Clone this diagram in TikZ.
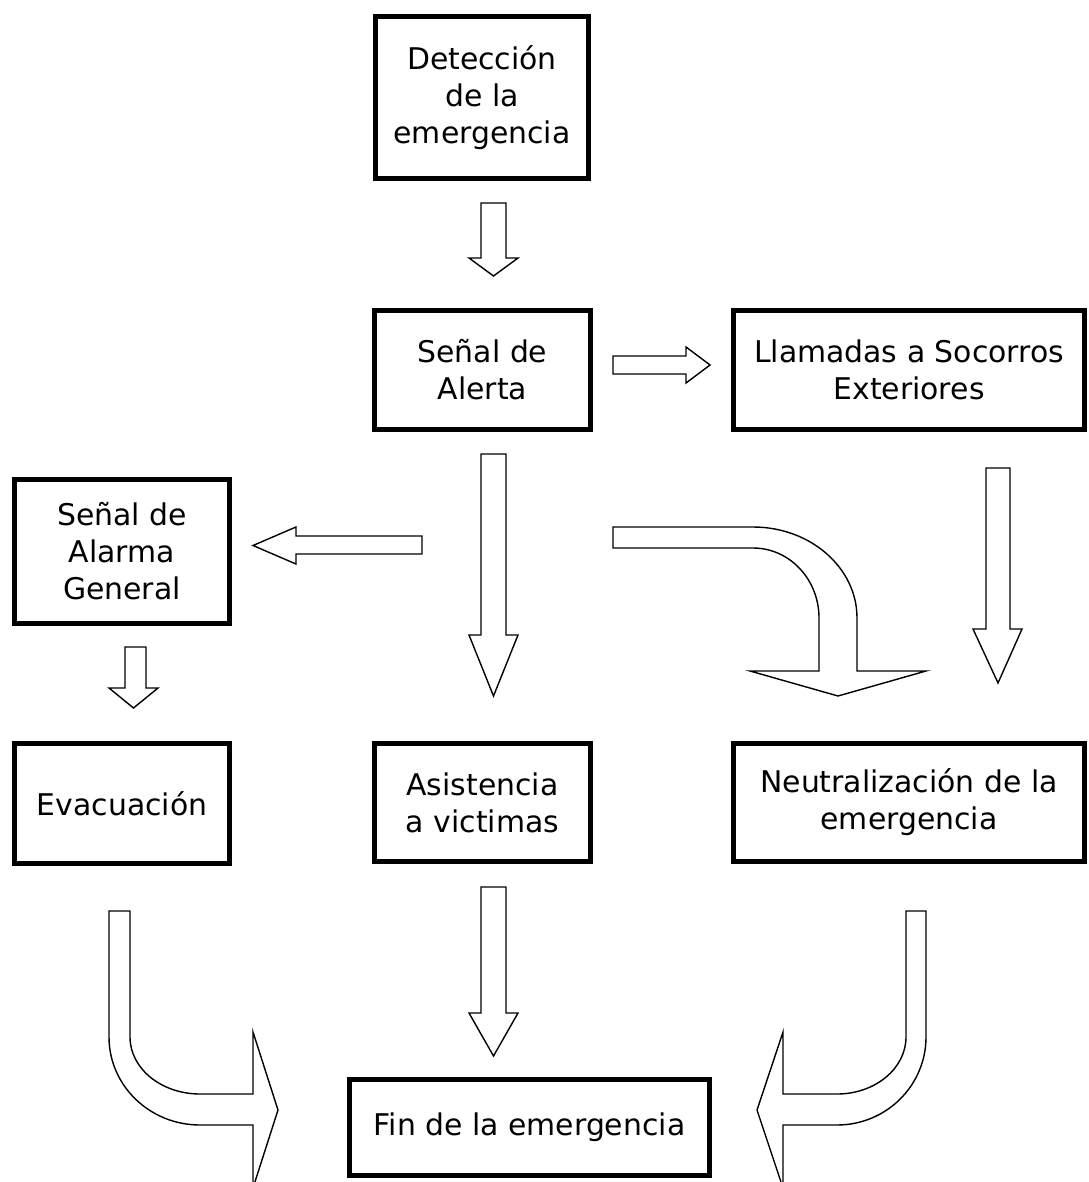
\documentclass[tikz,border=0pt]{standalone}
\usepackage{fontspec}
\setmainfont{DejaVu Sans}
\begin{document}
\begin{tikzpicture}[x=0.02cm,y=-0.02cm,
    every node/.style={inner sep=0,outer sep=1},
    box/.style={rectangle,draw,line width=0.1cm,align=center,
      font=\fontsize{17}{21}\selectfont},
    blockarrow/.style={draw,line width=0.8pt,line join=miter}]
  \useasboundingbox (0,0) rectangle (1088,1182);
  \clip (0,0) rectangle (1088,1182);
  %% Middle column.
  \node[box,minimum width=4.26cm,minimum height=3.24cm] (det) at (482,97.5) {Detección\\de la\\emergencia};
  \node[box,minimum width=4.32cm,minimum height=2.38cm] (sen) at (482.5,370) {Señal de\\Alerta};
  \node[box,minimum width=4.32cm,minimum height=2.36cm] (asi) at (482.5,802.5) {Asistencia\\a victimas};
  %% Right column.
  \node[box,minimum width=7.02cm,minimum height=2.38cm] (lla) at (909,370) {Llamadas a Socorros\\Exteriores};
  \node[box,minimum width=7.02cm,minimum height=2.36cm] (neu) at (909,802.5) {Neutralización de la\\emergencia};
  %% Left column.
  \node[box,minimum width=4.30cm,minimum height=2.88cm] (ala) at (122,551.5) {Señal de\\Alarma\\General};
  \node[box,minimum width=4.30cm,minimum height=2.40cm] (eva) at (122,803.5) {Evacuación};
  %% Bottom.
  \node[box,minimum width=7.20cm,minimum height=1.92cm] (fin) at (529.5,1127.5) {Fin de la emergencia};

  %% Straight arrows.
  \draw[blockarrow] (481,203) -- (506,203) -- (506,258) -- (518,258) -- (493.5,276)
    -- (469,258) -- (481,258) -- cycle;
  \draw[blockarrow] (613,356) -- (686,356) -- (686,347) -- (710,365) -- (686,383)
    -- (686,374) -- (613,374) -- cycle;
  \draw[blockarrow] (422,536) -- (296,536) -- (296,527) -- (253,545.5) -- (296,564)
    -- (296,554) -- (422,554) -- cycle;
  \draw[blockarrow] (125,647) -- (146,647) -- (146,688) -- (158,688) -- (133.5,708)
    -- (109,688) -- (125,688) -- cycle;
  \draw[blockarrow] (481,454) -- (506,454) -- (506,635) -- (518,635) -- (493.5,696)
    -- (469,635) -- (481,635) -- cycle;
  \draw[blockarrow] (986,468) -- (1010,468) -- (1010,629) -- (1022,629) -- (998,683)
    -- (973,629) -- (986,629) -- cycle;
  \draw[blockarrow] (481,887) -- (506,887) -- (506,1013) -- (518,1013) -- (493.5,1056)
    -- (469,1013) -- (481,1013) -- cycle;

  %% Bent arrows.
  \draw[blockarrow] (613,527) -- (753,527) .. controls (810.4,527) and (857,567.7) .. (857,618)
    -- (857,671) -- (926,671) -- (838,696) -- (750,671) -- (819,671) -- (819,618)
    .. controls (819,579.3) and (789.5,548) .. (753,548) -- (613,548) -- cycle;
  \draw[blockarrow] (109,911) -- (130,911) -- (130,1037)
    .. controls (130,1068.5) and (161.3,1094) .. (200,1094) -- (253,1094) -- (253,1032)
    -- (278,1110) -- (253,1188) -- (253,1125) -- (200,1125)
    .. controls (149.7,1125) and (109,1085.6) .. (109,1037) -- cycle;
  \draw[blockarrow] (926,911) -- (906,911) -- (906,1037)
    .. controls (906,1068.5) and (875.1,1094) .. (837,1094) -- (783,1094) -- (783,1032)
    -- (757,1110) -- (783,1188) -- (783,1125) -- (837,1125)
    .. controls (886.2,1125) and (926,1085.6) .. (926,1037) -- cycle;
\end{tikzpicture}
\end{document}
